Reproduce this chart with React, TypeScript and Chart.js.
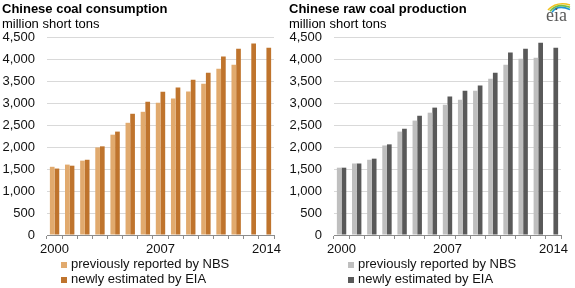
import React, { useEffect, useRef } from 'react';
import { Chart, registerables } from 'chart.js';

Chart.register(...registerables);

// ---------- data ----------
const years = ['2000', '2001', '2002', '2003', '2004', '2005', '2006', '2007', '2008', '2009', '2010', '2011', '2012', '2013', '2014'];
const shownYears = ['2000', '2007', '2014'];

const consumptionNBS = [1550, 1600, 1690, 1990, 2280, 2550, 2800, 3005, 3100, 3260, 3440, 3780, 3870, null, null];
const consumptionEIA = [1510, 1575, 1710, 2015, 2350, 2755, 3030, 3255, 3350, 3530, 3690, 4055, 4235, 4350, 4255];

const productionNBS = [1530, 1625, 1710, 2035, 2350, 2600, 2780, 2960, 3075, 3280, 3550, 3870, 4005, 4030, null];
const productionEIA = [1530, 1625, 1735, 2060, 2415, 2710, 2895, 3145, 3280, 3395, 3690, 4145, 4235, 4370, 4255];

const seriesLabels = ['previously reported by NBS', 'newly estimated by EIA'];
const yMin = 0;
const yMax = 4500;
const yStep = 500;

const FONT = '"Liberation Sans", Arial, Helvetica, sans-serif';

const headerLegendPlugin = {
  id: 'headerLegend',
  afterDraw(chart: any, _args: any, opts: any) {
    const ctx = chart.ctx as CanvasRenderingContext2D;
    ctx.save();
    ctx.textAlign = 'left';
    ctx.textBaseline = 'alphabetic';
    ctx.fillStyle = '#000';
    ctx.font = `bold 13px ${FONT}`;
    ctx.fillText(opts.title, 2, 13);
    ctx.font = `13px ${FONT}`;
    ctx.fillText(opts.subtitle, 2, 28);
    chart.data.datasets.forEach((ds: any, i: number) => {
      const base = 268 + i * 14.5;
      ctx.fillStyle = ds.backgroundColor;
      ctx.fillRect(61, Math.round(base) - 6, 6, 6);
      ctx.fillStyle = '#111';
      ctx.fillText(ds.label, 71, base);
    });
    if (opts.logo) {
      const colors = ['#f2c21b', '#79bf43', '#1f95d3'];
      ctx.lineWidth = 1.6;
      colors.forEach((c, i) => {
        ctx.strokeStyle = c;
        ctx.beginPath();
        ctx.moveTo(261 + i * 2, 10 + i * 1.2);
        ctx.quadraticCurveTo(270, 1 + i * 1.6, 283, 5 + i * 2.2);
        ctx.stroke();
      });
      ctx.fillStyle = '#5a5a5a';
      ctx.font = '18px "Liberation Serif", "Times New Roman", serif';
      ctx.fillText('eia', 259, 21);
    }
    ctx.restore();
  },
};

type PanelProps = {
  left: number;
  width: number;
  title: string;
  nbs: (number | null)[];
  eia: (number | null)[];
  colors: [string, string];
  logo?: boolean;
};

function Panel({ left, width, title, nbs, eia, colors, logo }: PanelProps) {
  const ref = useRef<HTMLCanvasElement | null>(null);
  useEffect(() => {
    if (!ref.current) return;
    const chart = new Chart(ref.current, {
      type: 'bar',
      data: {
        labels: years,
        datasets: [
          { label: seriesLabels[0], data: nbs, backgroundColor: colors[0], categoryPercentage: 0.62, barPercentage: 1.0 },
          { label: seriesLabels[1], data: eia, backgroundColor: colors[1], categoryPercentage: 0.62, barPercentage: 1.0 },
        ],
      },
      options: {
        responsive: false,
        animation: false,
        devicePixelRatio: 1,
        layout: { padding: { top: 37, left: 0, right: width - 274, bottom: 0 } },
        font: { family: FONT, size: 13 },
        plugins: {
          legend: { display: false },
          tooltip: { enabled: false },
          title: { display: false },
          headerLegend: { title, subtitle: 'million short tons', logo: !!logo },
        } as any,
        scales: {
          x: {
            offset: true,
            grid: { display: true, drawOnChartArea: false, drawTicks: true, tickLength: 4, color: '#8c8c8c', offset: true },
            border: { display: true, color: '#8c8c8c', width: 1 },
            ticks: {
              autoSkip: false,
              maxRotation: 0,
              padding: 3,
              color: '#111',
              font: { family: FONT, size: 13 },
              callback: (_v: any, i: number) => (shownYears.includes(years[i]) ? years[i] : ''),
            },
            afterFit: (s: any) => { s.height = 53; },
          },
          y: {
            min: yMin,
            max: yMax,
            grid: { color: '#d9d9d9', lineWidth: 1, drawTicks: false },
            border: { display: false },
            ticks: {
              stepSize: yStep,
              padding: 12,
              color: '#111',
              font: { family: FONT, size: 13 },
              callback: (v: any) => Number(v).toLocaleString('en-US'),
            },
            afterFit: (s: any) => { s.width = 47; },
          },
        },
      },
      plugins: [headerLegendPlugin],
    });
    return () => chart.destroy();
  }, []);
  return (
    <canvas
      ref={ref}
      width={width}
      height={288}
      style={{ position: 'absolute', left, top: 0, width, height: 288, display: 'block' }}
    />
  );
}

export default function App() {
  return (
    <div style={{ position: 'absolute', left: 0, top: 0, width: 575, height: 288, background: '#fff', overflow: 'hidden' }}>
      <Panel left={0} width={287} title="Chinese coal consumption" nbs={consumptionNBS} eia={consumptionEIA} colors={['#e1aa6e', '#bf742d']} />
      <Panel left={287} width={288} title="Chinese raw coal production" nbs={productionNBS} eia={productionEIA} colors={['#bfbfbf', '#595959']} logo />
    </div>
  );
}
